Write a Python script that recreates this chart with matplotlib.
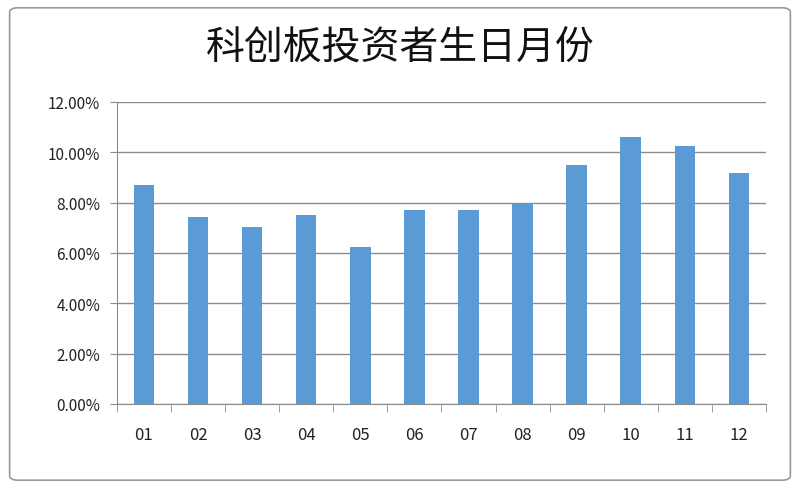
import numpy as np
import matplotlib.pyplot as plt
from matplotlib.patches import FancyBboxPatch
from matplotlib.ticker import MultipleLocator, FuncFormatter

plt.rcParams['font.family'] = ['Noto Sans CJK SC', 'DejaVu Sans']

months = ["01", "02", "03", "04", "05", "06", "07", "08", "09", "10", "11", "12"]
shares = [8.71, 7.44, 7.03, 7.51, 6.24, 7.70, 7.70, 8.00, 9.50, 10.60, 10.26, 9.18]
title = "科创板投资者生日月份"

fig = plt.figure(figsize=(8, 4.89), dpi=100)

# rounded grey frame round the whole chart
frame = FancyBboxPatch((0.012, 0.016), 0.976, 0.966,
                       boxstyle="round,pad=0,rounding_size=0.01",
                       transform=fig.transFigure, facecolor="none",
                       edgecolor="#9a9a9a", linewidth=1.2, zorder=-1)
fig.patches.append(frame)

ax = fig.add_axes([0.146, 0.172, 0.8115, 0.6175])
ax.patch.set_alpha(0)
x = np.arange(len(months))
ax.bar(x, shares, width=0.38, color="#5B9BD5", zorder=3)

ax.set_xlim(-0.5, len(months) - 0.5)
ax.set_ylim(0, 12)
ax.yaxis.set_major_locator(MultipleLocator(2))
ax.yaxis.set_major_formatter(FuncFormatter(lambda v, p: f"{v:.2f}%"))
ax.grid(axis="y", color="#8c8c8c", linewidth=1.0, zorder=0)

# category labels in the middle, tick marks on the boundaries
ax.set_xticks(x)
ax.set_xticklabels(months, fontsize=12, color="#222222")
ax.tick_params(axis="x", length=0, pad=16)
ax.set_xticks(np.arange(-0.5, len(months)), minor=True)
ax.tick_params(axis="x", which="minor", length=6, color="#8c8c8c", direction="out")
ax.tick_params(axis="y", length=5, color="#8c8c8c", labelsize=11,
               labelcolor="#222222", pad=7)

for side in ["top", "right"]:
    ax.spines[side].set_visible(False)
for side in ["left", "bottom"]:
    ax.spines[side].set_color("#8c8c8c")

fig.text(0.5, 0.9, title, ha="center", va="center", fontsize=28, color="#111111")

fig.savefig("out.png", dpi=100)
